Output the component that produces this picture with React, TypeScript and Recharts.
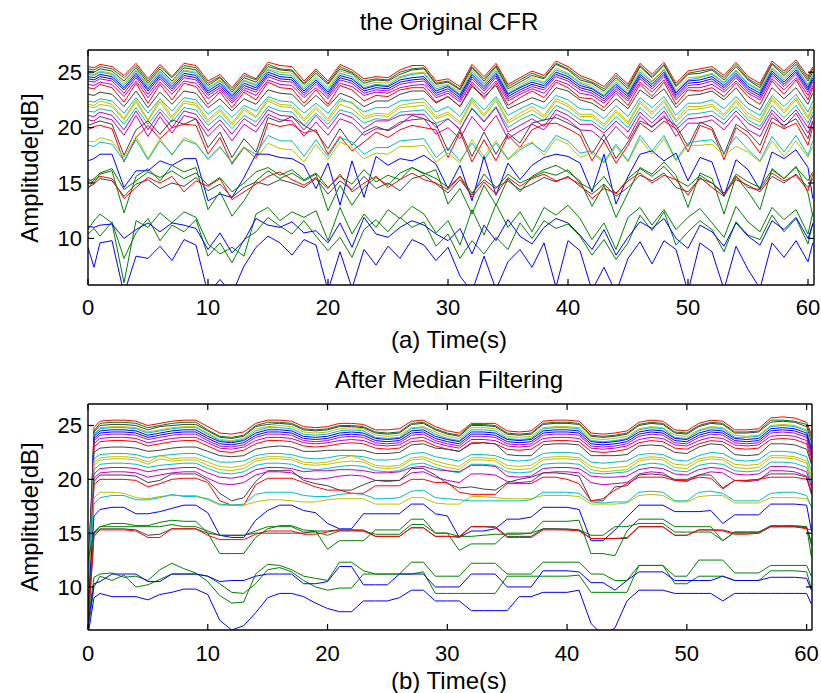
import { LineChart, Line, XAxis, YAxis, ReferenceLine } from "recharts";

const FONT = '"Liberation Sans", Arial, Helvetica, sans-serif';

// sample times (s)
const time = [0, 0.5, 1, 2, 3, 4, 5, 6, 7, 8, 9, 10, 11, 12, 13, 14, 15, 16, 17, 18, 19, 20, 21, 22, 23, 24, 25, 26, 27, 28, 29, 30, 31, 32, 33, 34, 35, 36, 37, 38, 39, 40, 41, 42, 43, 44, 45, 46, 47, 48, 49, 50, 51, 52, 53, 54, 55, 56, 57, 58, 59, 60, 60.4];

const xTicks = [0, 10, 20, 30, 40, 50, 60];
const yTicks = [10, 15, 20, 25];

// MATLAB-ish line colours, one per subcarrier
const colors = [
  "#ff0000", "#008000", "#404040", "#bfbf00", "#00bfbf", "#0000ff", "#0000ff", "#bf00bf", "#bf00bf", "#ff0000",
  "#404040", "#00bfbf", "#bfbf00", "#bfbf00", "#00bfbf", "#bf00bf", "#bf00bf", "#404040", "#ff0000", "#bfbf00",
  "#00bfbf", "#0000ff", "#008000", "#008000", "#404040", "#ff0000", "#008000", "#008000", "#0000ff", "#0000ff",
];

// (a) original CFR amplitude, dB
const orig01 = [25.5, 25.4, 25.7, 25.5, 24.7, 25.8, 24.4, 25.7, 24.6, 25.8, 25.6, 24.2, 24.8, 23.6, 24.9, 24.4, 25.9, 25.6, 25.5, 24.2, 25.3, 24.2, 25.7, 25.2, 24.4, 24.6, 24.5, 25.2, 25.6, 25.6, 24.2, 24.4, 23.7, 25.7, 24.6, 25.8, 23.9, 24.5, 25.1, 24.7, 26.0, 25.5, 24.7, 24.3, 23.7, 24.9, 23.9, 25.8, 24.8, 25.9, 24.0, 25.1, 25.3, 25.5, 24.7, 25.9, 24.6, 24.0, 26.0, 25.1, 26.1, 24.6, 25.5];
const orig02 = [25.3, 25.2, 25.5, 25.3, 24.5, 25.6, 24.2, 25.5, 24.5, 25.6, 25.4, 24.0, 24.6, 23.4, 24.7, 24.3, 25.7, 25.3, 25.2, 24.0, 25.1, 24.0, 25.5, 25.0, 24.2, 24.4, 24.3, 25.0, 25.3, 25.4, 24.0, 24.2, 23.5, 25.5, 24.4, 25.6, 23.7, 24.3, 24.9, 24.5, 25.8, 25.3, 24.5, 24.1, 23.5, 24.7, 23.7, 25.6, 24.6, 25.7, 23.8, 24.9, 25.1, 25.3, 24.5, 25.7, 24.4, 23.8, 25.8, 24.9, 25.9, 24.4, 25.3];
const orig03 = [25.1, 25.0, 25.3, 25.1, 24.2, 25.4, 24.0, 25.3, 24.2, 25.4, 25.2, 23.8, 24.5, 23.2, 24.5, 24.1, 25.5, 25.2, 25.1, 23.9, 24.9, 23.9, 25.3, 24.9, 24.0, 24.3, 24.2, 24.8, 25.2, 25.3, 23.9, 24.1, 23.4, 25.4, 24.2, 25.5, 23.5, 24.1, 24.7, 24.4, 25.7, 25.2, 24.3, 24.0, 23.3, 24.5, 23.5, 25.5, 24.5, 25.6, 23.7, 24.8, 24.9, 25.2, 24.3, 25.5, 24.3, 23.6, 25.7, 24.7, 25.7, 24.2, 25.0];
const orig04 = [24.9, 24.8, 25.1, 24.9, 24.0, 25.2, 23.8, 25.1, 24.0, 25.2, 25.0, 23.6, 24.3, 23.0, 24.3, 23.9, 25.3, 25.0, 24.9, 23.7, 24.7, 23.6, 25.1, 24.8, 23.8, 24.1, 24.0, 24.6, 24.9, 25.0, 23.7, 23.9, 23.2, 25.2, 24.0, 25.3, 23.3, 23.9, 24.5, 24.1, 25.4, 24.9, 24.1, 23.8, 23.1, 24.3, 23.3, 25.2, 24.2, 25.3, 23.4, 24.5, 24.6, 24.9, 24.1, 25.2, 24.0, 23.4, 25.4, 24.5, 25.5, 23.9, 24.8];
const orig05 = [24.8, 24.7, 25.0, 24.8, 23.8, 25.1, 23.7, 25.0, 23.9, 25.1, 24.9, 23.5, 24.2, 22.9, 24.2, 23.8, 25.2, 24.8, 24.7, 23.5, 24.5, 23.4, 24.9, 24.6, 23.6, 23.9, 23.8, 24.5, 24.8, 24.9, 23.5, 23.8, 23.0, 25.0, 23.9, 25.1, 23.1, 23.7, 24.3, 24.0, 25.2, 24.8, 24.0, 23.6, 22.9, 24.1, 23.1, 25.0, 24.1, 25.2, 23.2, 24.3, 24.5, 24.8, 24.0, 25.1, 23.9, 23.3, 25.3, 24.3, 25.4, 23.8, 24.7];
const orig06 = [24.6, 24.5, 24.8, 24.6, 23.6, 24.9, 23.5, 24.8, 23.7, 24.9, 24.7, 23.3, 24.0, 22.8, 24.0, 23.6, 25.0, 24.6, 24.5, 23.3, 24.3, 23.2, 24.7, 24.4, 23.5, 23.8, 23.7, 24.3, 24.5, 24.6, 23.3, 23.7, 22.9, 24.8, 23.7, 24.9, 23.0, 23.6, 24.1, 23.8, 25.0, 24.6, 23.8, 23.5, 22.8, 23.9, 23.0, 24.8, 23.9, 25.0, 23.1, 24.2, 24.3, 24.6, 23.8, 24.9, 23.7, 23.1, 25.1, 24.1, 25.2, 23.6, 24.5];
const orig07 = [24.4, 24.3, 24.6, 24.4, 23.4, 24.7, 23.3, 24.6, 23.5, 24.7, 24.5, 23.1, 23.8, 22.6, 23.8, 23.4, 24.8, 24.4, 24.3, 23.1, 24.1, 23.0, 24.5, 24.2, 23.3, 23.6, 23.5, 24.1, 24.3, 24.4, 23.1, 23.5, 22.7, 24.6, 23.5, 24.7, 22.8, 23.4, 23.9, 23.6, 24.8, 24.4, 23.6, 23.3, 22.6, 23.7, 22.8, 24.6, 23.7, 24.8, 22.9, 24.0, 24.1, 24.4, 23.6, 24.7, 23.5, 22.9, 24.9, 23.9, 25.0, 23.4, 24.3];
const orig08 = [24.2, 24.1, 24.4, 24.2, 23.1, 24.5, 23.0, 24.4, 23.3, 24.5, 24.3, 22.9, 23.6, 22.4, 23.6, 23.2, 24.6, 24.2, 24.1, 22.9, 23.9, 22.8, 24.3, 24.0, 23.1, 23.4, 23.3, 23.9, 24.1, 24.2, 22.9, 23.3, 22.5, 24.4, 23.3, 24.5, 22.6, 23.2, 23.7, 23.4, 24.6, 24.2, 23.4, 23.1, 22.4, 23.5, 22.6, 24.4, 23.5, 24.6, 22.7, 23.8, 23.9, 24.2, 23.4, 24.5, 23.3, 22.7, 24.7, 23.7, 24.8, 23.2, 24.1];
const orig09 = [23.9, 23.8, 24.1, 23.9, 22.8, 24.2, 22.7, 24.1, 23.0, 24.2, 24.0, 22.6, 23.4, 22.2, 23.4, 22.9, 24.3, 23.9, 23.8, 22.7, 23.6, 22.6, 24.0, 23.7, 22.9, 23.2, 23.1, 23.6, 23.8, 23.9, 22.7, 23.1, 22.3, 24.1, 23.0, 24.2, 22.4, 23.0, 23.5, 23.1, 24.3, 23.9, 23.1, 22.9, 22.2, 23.3, 22.4, 24.1, 23.2, 24.3, 22.5, 23.6, 23.6, 23.9, 23.2, 24.2, 23.1, 22.5, 24.4, 23.4, 24.5, 22.9, 23.8];
const orig10 = [23.6, 23.5, 23.9, 23.6, 22.3, 24.0, 22.2, 23.9, 22.5, 24.0, 23.7, 22.1, 23.2, 21.8, 23.2, 22.5, 24.1, 23.6, 23.5, 22.2, 23.4, 22.1, 23.8, 23.4, 22.4, 22.9, 22.8, 23.4, 23.6, 23.6, 22.3, 22.8, 21.9, 23.9, 22.6, 24.0, 22.0, 22.7, 23.3, 22.7, 24.1, 23.6, 22.7, 22.6, 21.8, 23.1, 22.0, 23.9, 22.8, 24.1, 22.1, 23.4, 23.3, 23.6, 22.8, 24.0, 22.8, 22.1, 24.2, 23.0, 24.3, 22.5, 23.6];
const orig11 = [23.0, 22.9, 23.2, 23.0, 21.9, 23.3, 21.8, 23.2, 22.1, 23.3, 23.1, 21.8, 22.6, 21.5, 22.6, 22.1, 23.4, 23.1, 23.0, 21.9, 22.9, 21.9, 23.1, 22.7, 21.9, 22.4, 22.4, 23.0, 23.3, 23.3, 22.2, 22.8, 21.9, 23.7, 22.8, 23.8, 21.7, 22.2, 22.7, 22.3, 23.6, 23.3, 22.5, 22.2, 21.5, 22.6, 21.7, 23.4, 22.6, 23.5, 21.8, 22.9, 23.0, 23.3, 22.5, 23.6, 22.2, 21.6, 23.6, 22.6, 23.6, 22.1, 23.1];
const orig12 = [22.4, 22.3, 22.6, 22.4, 21.3, 22.7, 21.3, 22.6, 21.5, 22.7, 22.5, 21.2, 22.0, 20.9, 22.0, 21.5, 22.8, 22.4, 22.3, 21.3, 22.2, 21.3, 22.6, 22.2, 21.4, 21.8, 21.8, 22.4, 22.5, 22.6, 21.4, 21.9, 21.0, 22.7, 21.6, 22.8, 21.1, 21.7, 22.2, 21.7, 22.9, 22.5, 21.7, 21.6, 20.8, 22.0, 21.0, 22.7, 21.8, 22.8, 21.1, 22.2, 22.2, 22.5, 21.7, 22.8, 21.7, 21.1, 22.9, 21.9, 23.0, 21.4, 22.4];
const orig13 = [22.1, 22.0, 22.4, 22.1, 20.8, 22.5, 20.7, 22.6, 21.0, 22.4, 22.2, 20.7, 21.7, 20.4, 21.8, 21.0, 22.6, 22.1, 22.0, 20.8, 21.9, 20.8, 22.4, 22.3, 21.0, 21.3, 21.2, 22.0, 22.2, 22.3, 21.0, 21.4, 20.5, 22.5, 21.2, 22.6, 20.6, 21.3, 21.9, 21.1, 22.6, 22.1, 21.2, 21.2, 20.3, 21.6, 20.5, 22.4, 21.4, 22.5, 20.7, 21.9, 21.9, 22.1, 21.2, 22.5, 21.3, 20.7, 22.7, 21.5, 22.7, 21.0, 22.0];
const orig14 = [21.9, 21.8, 22.1, 21.9, 20.7, 22.3, 20.6, 22.3, 20.8, 22.2, 22.0, 20.5, 21.5, 20.2, 21.6, 20.9, 22.4, 21.9, 21.8, 20.6, 21.7, 20.6, 22.1, 21.7, 20.8, 21.1, 21.0, 21.8, 21.9, 22.0, 20.8, 21.2, 20.3, 22.3, 21.0, 22.4, 20.4, 21.0, 21.6, 20.9, 22.4, 21.9, 21.0, 21.0, 20.1, 21.4, 20.3, 22.2, 21.2, 22.3, 20.5, 21.6, 21.7, 21.9, 21.0, 22.3, 21.0, 20.5, 22.5, 21.3, 22.5, 20.8, 21.8];
const orig15 = [21.5, 21.4, 21.7, 21.5, 20.3, 21.8, 20.3, 21.7, 20.5, 21.8, 21.6, 20.2, 21.1, 19.9, 21.1, 20.5, 21.9, 21.5, 21.4, 20.2, 21.3, 20.3, 21.6, 21.3, 20.4, 20.8, 20.7, 21.4, 21.5, 21.6, 20.4, 20.8, 19.9, 21.8, 20.6, 21.9, 20.0, 20.7, 21.2, 20.6, 22.0, 21.5, 20.7, 20.6, 19.8, 21.0, 20.0, 21.8, 20.8, 21.9, 20.1, 21.2, 21.3, 21.5, 20.7, 21.9, 20.7, 20.1, 22.0, 20.9, 22.0, 20.4, 21.4];
const orig16 = [21.1, 21.0, 21.4, 21.1, 19.8, 21.5, 19.8, 21.4, 20.0, 21.5, 21.2, 19.7, 20.7, 19.4, 20.8, 20.1, 21.6, 21.1, 21.0, 19.8, 21.1, 19.9, 21.3, 20.9, 19.9, 20.6, 20.6, 21.1, 21.2, 21.2, 20.0, 20.8, 19.8, 21.7, 20.5, 21.8, 19.6, 20.2, 20.8, 20.1, 21.6, 21.1, 20.3, 20.3, 19.5, 20.6, 19.6, 21.4, 20.4, 21.5, 19.8, 20.8, 20.9, 21.1, 20.3, 21.5, 20.4, 19.8, 21.6, 20.5, 21.6, 20.0, 21.1];
const orig17 = [20.7, 20.6, 21.0, 20.7, 19.3, 21.1, 19.2, 21.0, 19.5, 21.1, 20.8, 19.2, 20.3, 18.8, 20.3, 19.6, 21.2, 20.7, 20.6, 19.2, 20.5, 19.3, 20.8, 20.4, 19.3, 19.9, 19.8, 20.5, 20.7, 20.8, 19.4, 20.0, 19.0, 21.0, 19.7, 21.1, 19.0, 19.7, 20.3, 19.8, 21.2, 20.7, 19.8, 19.7, 18.8, 20.1, 19.0, 21.0, 20.0, 21.1, 19.2, 20.4, 20.4, 20.7, 19.8, 21.1, 19.8, 19.2, 21.3, 20.0, 21.3, 19.5, 20.6];
const orig18 = [20.2, 20.4, 20.6, 20.3, 17.5, 19.8, 20.6, 19.4, 20.7, 20.3, 20.8, 18.2, 19.6, 17.3, 19.0, 17.8, 20.9, 20.5, 21.0, 20.2, 19.6, 18.1, 19.9, 18.4, 19.6, 20.1, 19.7, 20.3, 21.1, 20.8, 20.3, 17.9, 19.8, 17.4, 19.6, 17.6, 19.5, 18.6, 20.4, 20.7, 20.9, 20.4, 19.8, 17.6, 19.4, 17.2, 18.7, 20.6, 20.1, 20.9, 20.2, 18.3, 20.5, 20.0, 17.6, 20.3, 19.6, 18.4, 20.9, 20.2, 20.8, 19.0, 20.5];
const orig19 = [19.8, 20.1, 20.2, 19.9, 16.9, 19.1, 20.2, 19.0, 20.0, 20.3, 20.2, 17.6, 19.1, 16.7, 18.2, 17.2, 20.4, 20.1, 20.3, 19.5, 19.8, 17.6, 19.2, 17.9, 18.7, 19.6, 19.1, 19.8, 20.2, 20.0, 19.8, 17.3, 19.6, 16.9, 18.9, 17.0, 19.3, 18.2, 19.8, 20.3, 20.4, 19.9, 19.3, 17.0, 18.8, 16.8, 18.4, 20.4, 19.6, 20.6, 19.9, 17.8, 20.2, 19.8, 17.1, 20.0, 19.2, 17.7, 20.5, 19.9, 20.4, 18.4, 20.1];
const orig20 = [18.8, 18.7, 19.1, 18.8, 17.3, 19.2, 17.2, 19.0, 17.5, 19.1, 18.6, 17.1, 18.2, 16.9, 18.3, 17.2, 18.6, 18.1, 18.0, 16.9, 18.5, 17.1, 18.7, 18.2, 17.2, 17.7, 17.6, 18.3, 18.3, 18.4, 16.9, 17.7, 16.8, 18.9, 17.4, 18.8, 17.2, 18.2, 18.7, 17.5, 19.0, 18.5, 17.3, 17.7, 16.8, 18.3, 16.9, 19.0, 17.6, 19.0, 17.0, 18.4, 18.4, 18.5, 17.5, 18.3, 17.8, 16.9, 18.8, 17.4, 18.8, 17.3, 18.3];
const orig21 = [18.4, 18.3, 18.7, 18.5, 17.0, 18.9, 17.1, 18.8, 17.6, 18.9, 18.5, 17.2, 18.3, 16.8, 18.2, 17.6, 19.3, 18.8, 18.8, 17.4, 18.9, 17.4, 19.1, 18.7, 17.6, 18.2, 18.2, 18.8, 18.9, 19.0, 17.3, 18.2, 17.0, 18.6, 17.1, 18.6, 17.1, 18.0, 18.6, 17.8, 19.3, 18.8, 17.7, 17.9, 16.9, 18.5, 17.0, 19.3, 17.9, 19.3, 17.1, 18.6, 18.8, 18.9, 17.7, 19.2, 18.0, 17.0, 19.2, 17.8, 19.3, 17.5, 18.8];
const orig22 = [17.0, 17.2, 17.6, 17.6, 14.6, 16.1, 16.1, 17.0, 16.6, 17.2, 17.2, 13.4, 14.0, 13.7, 15.5, 17.6, 17.6, 17.3, 17.2, 16.6, 14.5, 16.8, 13.0, 17.0, 13.7, 17.4, 16.6, 17.2, 17.0, 17.5, 16.7, 14.5, 16.6, 13.4, 17.4, 13.9, 16.8, 15.3, 16.6, 17.3, 17.6, 17.4, 16.8, 14.2, 17.6, 13.1, 15.6, 17.6, 17.9, 17.0, 17.7, 15.2, 17.3, 16.9, 13.8, 17.1, 16.2, 14.4, 17.8, 17.2, 18.0, 16.4, 13.6];
const orig23 = [15.4, 15.0, 15.8, 16.1, 12.3, 15.6, 16.3, 15.2, 16.6, 16.0, 16.4, 12.6, 14.2, 12.0, 13.4, 15.2, 16.1, 15.4, 15.9, 15.2, 15.8, 12.5, 14.8, 13.0, 14.6, 15.5, 14.8, 15.9, 16.4, 15.8, 16.2, 13.1, 14.5, 12.2, 14.8, 13.0, 15.4, 14.2, 15.6, 16.2, 16.6, 16.0, 15.2, 12.9, 14.8, 11.9, 14.1, 16.4, 15.8, 16.9, 15.7, 12.8, 15.9, 15.4, 12.2, 15.6, 14.2, 12.6, 16.3, 15.4, 16.5, 14.1, 12.0];
const orig24 = [15.1, 15.4, 15.9, 16.3, 14.4, 15.2, 16.0, 15.5, 16.1, 15.4, 15.9, 14.8, 15.5, 14.2, 15.0, 16.0, 16.4, 15.7, 16.2, 15.3, 15.9, 14.6, 15.6, 14.9, 16.2, 15.1, 15.7, 15.3, 16.4, 15.9, 15.4, 14.6, 15.6, 14.1, 15.3, 14.5, 15.8, 15.0, 15.5, 16.0, 15.7, 16.2, 15.0, 14.4, 15.6, 14.0, 15.4, 16.3, 15.6, 16.5, 15.3, 14.7, 15.7, 15.0, 13.9, 15.8, 15.1, 14.6, 16.2, 15.4, 16.4, 15.2, 16.0];
const orig25 = [14.6, 14.9, 15.4, 15.2, 13.8, 14.9, 15.3, 14.5, 15.0, 14.7, 15.5, 14.3, 14.9, 13.7, 14.6, 15.1, 14.8, 15.3, 15.0, 14.6, 15.4, 14.0, 15.2, 14.4, 15.6, 14.5, 15.0, 14.3, 15.4, 15.7, 14.9, 14.1, 15.3, 13.9, 15.8, 14.6, 15.2, 14.4, 14.9, 15.5, 15.1, 15.6, 14.7, 14.0, 14.9, 13.8, 14.6, 15.7, 15.2, 15.9, 14.6, 14.2, 15.4, 15.0, 14.1, 15.3, 14.8, 14.2, 15.6, 15.0, 15.8, 14.6, 15.4];
const orig26 = [14.5, 15.3, 15.6, 15.4, 13.6, 14.6, 15.5, 15.0, 15.6, 14.2, 15.2, 14.7, 15.4, 13.5, 14.2, 14.9, 15.6, 16.0, 15.3, 14.8, 15.5, 14.5, 15.8, 14.2, 15.0, 15.6, 14.6, 15.3, 15.9, 15.3, 15.0, 14.4, 15.6, 13.7, 15.1, 14.0, 15.5, 14.7, 15.4, 15.8, 15.2, 15.5, 14.9, 13.6, 14.5, 14.1, 15.2, 15.9, 15.0, 15.7, 15.3, 13.9, 15.5, 14.6, 13.8, 15.6, 14.6, 14.4, 15.9, 15.2, 15.7, 14.3, 15.8];
const orig27 = [10.8, 11.6, 12.2, 11.4, 6.0, 11.6, 11.0, 12.3, 11.4, 12.4, 11.9, 9.5, 8.6, 9.2, 8.4, 12.2, 12.8, 11.6, 12.4, 11.9, 12.5, 9.8, 12.8, 10.4, 12.2, 11.0, 12.6, 11.8, 12.9, 12.2, 10.5, 11.6, 9.4, 12.6, 10.3, 13.1, 11.0, 12.4, 10.6, 12.8, 12.1, 13.0, 11.8, 9.9, 11.4, 9.0, 11.9, 12.8, 11.2, 12.6, 10.8, 11.9, 12.7, 11.4, 10.1, 12.9, 11.5, 10.6, 12.8, 11.7, 12.6, 10.4, 12.3];
const orig28 = [10.4, 10.9, 10.2, 11.5, 8.2, 10.5, 11.8, 9.8, 11.2, 10.6, 11.7, 8.4, 9.6, 7.8, 9.9, 10.6, 11.9, 11.1, 10.4, 11.6, 10.2, 8.9, 10.1, 8.3, 10.8, 11.7, 10.6, 11.9, 11.0, 11.5, 9.3, 10.4, 8.2, 9.8, 8.6, 10.1, 9.0, 11.4, 10.0, 11.6, 10.9, 11.3, 10.2, 8.5, 9.9, 8.1, 9.6, 12.1, 10.7, 12.4, 9.4, 10.6, 11.6, 10.8, 8.8, 11.5, 10.3, 9.9, 12.1, 10.6, 11.8, 9.5, 11.4];
const orig29 = [11.1, 11.0, 11.2, 11.3, 10.0, 10.8, 11.4, 10.6, 11.4, 11.2, 10.9, 9.0, 10.5, 8.7, 9.8, 11.8, 11.2, 11.0, 11.5, 10.5, 10.7, 9.6, 11.4, 9.2, 11.9, 10.4, 10.1, 11.0, 11.6, 11.2, 10.4, 9.8, 10.9, 8.6, 11.2, 9.8, 11.7, 10.2, 9.5, 11.0, 11.8, 11.4, 10.3, 9.0, 10.8, 8.5, 10.1, 11.5, 10.9, 11.8, 10.0, 9.1, 11.2, 10.6, 9.3, 11.4, 10.2, 9.4, 11.6, 10.8, 11.9, 10.0, 11.3];
const orig30 = [9.2, 7.4, 9.6, 9.8, 5.0, 8.4, 8.2, 9.3, 8.0, 9.9, 9.4, 5.0, 6.3, 5.0, 7.5, 9.2, 10.2, 9.6, 8.5, 9.9, 9.4, 5.3, 8.8, 5.5, 9.0, 7.6, 9.3, 8.2, 9.9, 9.4, 8.0, 9.2, 6.6, 5.2, 8.4, 5.4, 7.9, 9.0, 7.4, 9.6, 5.6, 9.8, 8.9, 5.3, 7.4, 5.1, 8.2, 9.7, 7.7, 9.8, 9.0, 5.2, 9.6, 8.8, 5.4, 9.3, 7.2, 5.5, 9.6, 8.3, 9.8, 7.9, 9.6];

// (b) after median filtering, dB
const filt01 = [8.0, 24.8, 25.4, 25.5, 25.5, 25.4, 25.0, 25.2, 25.4, 25.5, 25.5, 24.9, 24.3, 24.2, 24.4, 25.2, 25.5, 25.5, 25.4, 24.9, 24.8, 24.9, 25.2, 25.2, 25.1, 24.6, 24.6, 24.7, 25.4, 25.5, 24.9, 24.5, 24.3, 25.2, 25.2, 25.2, 24.5, 24.4, 24.5, 25.4, 25.5, 25.5, 25.4, 24.3, 24.2, 24.3, 24.5, 25.3, 25.5, 25.4, 24.6, 24.5, 25.2, 25.5, 25.4, 24.6, 24.6, 24.7, 25.7, 25.8, 25.7, 25.3, 24.2];
const filt02 = [7.0, 24.5, 25.2, 25.3, 25.3, 25.2, 24.8, 25.0, 25.2, 25.3, 25.3, 24.6, 24.0, 23.9, 24.1, 25.0, 25.3, 25.3, 25.2, 24.7, 24.6, 24.7, 25.0, 25.0, 24.9, 24.4, 24.3, 24.4, 25.2, 25.3, 24.7, 24.3, 24.1, 25.1, 25.1, 25.0, 24.3, 24.2, 24.3, 25.2, 25.3, 25.3, 25.2, 24.1, 24.0, 24.1, 24.3, 25.1, 25.3, 25.2, 24.4, 24.3, 25.0, 25.3, 25.2, 24.4, 24.4, 24.5, 25.5, 25.5, 25.4, 25.1, 23.9];
const filt03 = [10.0, 24.4, 25.0, 25.1, 25.1, 25.0, 24.6, 24.9, 25.0, 25.1, 25.1, 24.5, 23.9, 23.8, 24.0, 24.9, 25.1, 25.2, 25.1, 24.6, 24.5, 24.6, 24.9, 24.9, 24.8, 24.3, 24.2, 24.3, 25.1, 25.2, 24.6, 24.2, 24.0, 25.0, 25.0, 24.9, 24.2, 24.1, 24.2, 25.1, 25.2, 25.2, 25.1, 24.0, 23.9, 24.0, 24.2, 25.0, 25.2, 25.1, 24.3, 24.2, 24.9, 25.2, 25.1, 24.3, 24.3, 24.4, 25.3, 25.4, 25.3, 24.9, 23.5];
const filt04 = [6.5, 24.2, 24.8, 24.9, 24.9, 24.8, 24.4, 24.6, 24.8, 24.9, 24.9, 24.3, 23.7, 23.6, 23.8, 24.7, 24.9, 25.0, 24.9, 24.4, 24.3, 24.4, 24.7, 24.8, 24.7, 24.1, 24.0, 24.1, 24.8, 24.9, 24.4, 24.0, 23.8, 24.8, 24.8, 24.7, 24.0, 23.9, 24.0, 24.8, 24.9, 24.9, 24.8, 23.8, 23.7, 23.8, 24.0, 24.7, 24.9, 24.8, 24.1, 24.0, 24.6, 24.9, 24.8, 24.1, 24.0, 24.1, 25.0, 25.1, 25.0, 24.6, 23.2];
const filt05 = [9.5, 24.1, 24.7, 24.8, 24.8, 24.7, 24.3, 24.5, 24.7, 24.8, 24.8, 24.2, 23.6, 23.5, 23.7, 24.5, 24.8, 24.8, 24.7, 24.2, 24.1, 24.2, 24.5, 24.6, 24.5, 23.9, 23.8, 23.9, 24.7, 24.8, 24.2, 23.8, 23.6, 24.6, 24.6, 24.5, 23.8, 23.7, 23.8, 24.7, 24.8, 24.8, 24.7, 23.6, 23.5, 23.6, 23.8, 24.6, 24.8, 24.7, 23.9, 23.8, 24.5, 24.8, 24.7, 23.9, 23.9, 24.0, 24.9, 25.0, 24.9, 24.5, 23.0];
const filt06 = [7.5, 24.0, 24.5, 24.6, 24.6, 24.5, 24.1, 24.3, 24.5, 24.6, 24.6, 24.0, 23.5, 23.4, 23.6, 24.3, 24.6, 24.6, 24.5, 24.0, 23.9, 24.0, 24.3, 24.4, 24.3, 23.8, 23.7, 23.8, 24.5, 24.6, 24.0, 23.7, 23.5, 24.4, 24.4, 24.3, 23.7, 23.6, 23.7, 24.5, 24.6, 24.6, 24.5, 23.5, 23.4, 23.5, 23.7, 24.4, 24.6, 24.5, 23.8, 23.7, 24.3, 24.6, 24.5, 23.8, 23.7, 23.8, 24.7, 24.8, 24.7, 24.3, 22.8];
const filt07 = [8.5, 23.8, 24.3, 24.4, 24.4, 24.3, 23.9, 24.1, 24.3, 24.4, 24.4, 23.8, 23.3, 23.2, 23.4, 24.1, 24.4, 24.4, 24.3, 23.8, 23.7, 23.8, 24.1, 24.2, 24.1, 23.6, 23.5, 23.6, 24.3, 24.4, 23.8, 23.5, 23.3, 24.2, 24.2, 24.1, 23.5, 23.4, 23.5, 24.3, 24.4, 24.4, 24.3, 23.3, 23.2, 23.3, 23.5, 24.2, 24.4, 24.3, 23.6, 23.5, 24.1, 24.4, 24.3, 23.6, 23.5, 23.6, 24.5, 24.6, 24.5, 24.1, 22.5];
const filt08 = [6.8, 23.6, 24.1, 24.2, 24.2, 24.1, 23.7, 23.9, 24.1, 24.2, 24.2, 23.6, 23.1, 23.0, 23.2, 23.9, 24.2, 24.2, 24.1, 23.6, 23.5, 23.6, 23.9, 24.0, 23.9, 23.4, 23.3, 23.4, 24.1, 24.2, 23.6, 23.3, 23.1, 24.0, 24.0, 23.9, 23.3, 23.2, 23.3, 24.1, 24.2, 24.2, 24.1, 23.1, 23.0, 23.1, 23.3, 24.0, 24.2, 24.1, 23.4, 23.3, 23.9, 24.2, 24.1, 23.4, 23.3, 23.4, 24.3, 24.4, 24.3, 23.9, 22.3];
const filt09 = [11.0, 23.3, 23.8, 23.9, 23.9, 23.8, 23.4, 23.6, 23.8, 23.9, 23.9, 23.4, 22.9, 22.8, 23.0, 23.6, 23.9, 23.9, 23.8, 23.4, 23.3, 23.4, 23.6, 23.7, 23.6, 23.2, 23.1, 23.2, 23.8, 23.9, 23.4, 23.1, 22.9, 23.7, 23.7, 23.6, 23.1, 23.0, 23.1, 23.8, 23.9, 23.9, 23.8, 22.9, 22.8, 22.9, 23.1, 23.7, 23.9, 23.8, 23.2, 23.1, 23.6, 23.9, 23.8, 23.2, 23.1, 23.2, 24.0, 24.1, 24.0, 23.6, 22.0];
const filt10 = [7.2, 23.0, 23.5, 23.6, 23.6, 23.5, 23.1, 23.3, 23.5, 23.6, 23.6, 23.1, 22.6, 22.5, 22.7, 23.3, 23.6, 23.6, 23.5, 23.1, 23.0, 23.1, 23.3, 23.4, 23.3, 22.9, 22.8, 22.9, 23.5, 23.6, 23.1, 22.8, 22.6, 23.4, 23.4, 23.3, 22.8, 22.7, 22.8, 23.5, 23.6, 23.6, 23.5, 22.6, 22.5, 22.6, 22.8, 23.4, 23.6, 23.5, 22.9, 22.8, 23.3, 23.6, 23.5, 22.9, 22.8, 22.9, 23.7, 23.8, 23.7, 23.3, 21.6];
const filt11 = [12.0, 22.5, 22.9, 23.0, 23.0, 22.9, 22.6, 22.7, 22.9, 23.0, 23.0, 22.6, 22.2, 22.1, 22.2, 22.8, 23.0, 23.1, 23.0, 22.6, 22.6, 22.7, 22.7, 22.7, 22.7, 22.4, 22.4, 22.5, 23.2, 23.3, 22.9, 22.8, 22.6, 23.3, 23.4, 23.3, 22.3, 22.2, 22.2, 23.2, 23.3, 23.3, 23.2, 22.2, 22.2, 22.2, 22.3, 23.1, 23.2, 23.1, 22.5, 22.4, 23.0, 23.3, 23.2, 22.3, 22.2, 22.3, 23.3, 23.3, 23.2, 22.8, 21.4];
const filt12 = [8.2, 21.9, 22.3, 22.4, 22.4, 22.3, 22.0, 22.2, 22.3, 22.4, 22.4, 22.0, 21.6, 21.6, 21.7, 22.2, 22.4, 22.4, 22.3, 22.0, 21.9, 22.0, 22.2, 22.2, 22.1, 21.8, 21.8, 21.9, 22.4, 22.5, 22.1, 21.9, 21.7, 22.3, 22.3, 22.2, 21.8, 21.7, 21.8, 22.4, 22.5, 22.5, 22.4, 21.6, 21.5, 21.6, 21.7, 22.3, 22.4, 22.3, 21.8, 21.7, 22.2, 22.5, 22.4, 21.8, 21.7, 21.8, 22.6, 22.6, 22.5, 22.1, 20.8];
const filt13 = [6.2, 21.6, 22.0, 22.1, 22.1, 22.0, 21.6, 22.2, 21.9, 22.0, 22.0, 21.6, 21.2, 21.1, 21.3, 21.9, 22.1, 22.1, 22.0, 21.6, 21.5, 21.6, 21.9, 22.2, 21.8, 21.3, 21.2, 21.3, 22.0, 22.1, 21.7, 21.4, 21.2, 22.0, 22.0, 21.9, 21.3, 21.2, 21.3, 22.0, 22.1, 22.1, 22.0, 21.2, 21.0, 21.1, 21.2, 21.9, 22.1, 22.0, 21.4, 21.3, 21.9, 22.1, 22.0, 21.4, 21.3, 21.4, 22.2, 22.2, 22.1, 21.7, 20.3];
const filt14 = [9.0, 21.3, 21.8, 21.9, 21.9, 21.8, 21.4, 21.9, 21.7, 21.8, 21.8, 21.3, 20.9, 20.8, 21.0, 21.7, 21.9, 21.9, 21.8, 21.4, 21.3, 21.4, 21.6, 21.7, 21.6, 21.1, 21.0, 21.1, 21.8, 21.9, 21.4, 21.1, 20.9, 21.8, 21.8, 21.7, 21.0, 20.9, 21.0, 21.8, 21.9, 21.9, 21.8, 20.9, 20.7, 20.8, 20.9, 21.7, 21.9, 21.8, 21.1, 21.0, 21.7, 21.9, 21.8, 21.1, 21.0, 21.1, 22.0, 22.0, 21.9, 21.5, 20.0];
const filt15 = [10.5, 20.9, 21.4, 21.5, 21.5, 21.4, 21.1, 21.3, 21.4, 21.5, 21.5, 21.0, 20.6, 20.5, 20.7, 21.3, 21.5, 21.5, 21.4, 21.0, 20.9, 21.0, 21.2, 21.3, 21.2, 20.8, 20.7, 20.8, 21.4, 21.5, 21.1, 20.8, 20.6, 21.4, 21.4, 21.3, 20.7, 20.6, 20.7, 21.4, 21.5, 21.5, 21.4, 20.6, 20.5, 20.6, 20.7, 21.3, 21.5, 21.4, 20.8, 20.7, 21.3, 21.5, 21.4, 20.8, 20.7, 20.8, 21.6, 21.6, 21.5, 21.1, 19.6];
const filt16 = [7.8, 20.5, 21.0, 21.1, 21.1, 21.0, 20.7, 20.9, 21.0, 21.1, 21.1, 20.6, 20.2, 20.1, 20.3, 20.9, 21.1, 21.1, 21.0, 20.7, 20.8, 20.8, 20.9, 20.9, 20.8, 20.6, 20.6, 20.7, 21.1, 21.2, 20.9, 20.8, 20.7, 21.3, 21.3, 21.2, 20.3, 20.2, 20.3, 21.0, 21.1, 21.1, 21.0, 20.3, 20.2, 20.2, 20.3, 20.9, 21.1, 21.0, 20.5, 20.4, 20.9, 21.1, 21.0, 20.5, 20.4, 20.5, 21.2, 21.2, 21.1, 20.7, 19.3];
const filt17 = [6.6, 20.1, 20.6, 20.7, 20.7, 20.6, 20.2, 20.4, 20.6, 20.7, 20.7, 20.1, 19.6, 19.5, 19.7, 20.4, 20.7, 20.7, 20.6, 20.1, 20.0, 20.1, 20.3, 20.4, 20.3, 19.9, 19.8, 19.9, 20.6, 20.7, 20.2, 19.9, 19.7, 20.5, 20.5, 20.4, 19.8, 19.7, 19.8, 20.6, 20.7, 20.7, 20.6, 19.7, 19.5, 19.6, 19.7, 20.5, 20.7, 20.6, 19.9, 19.8, 20.4, 20.7, 20.6, 19.9, 19.8, 19.9, 20.8, 20.8, 20.7, 20.3, 18.8];
const filt18 = [5.8, 19.8, 20.4, 20.4, 20.4, 20.3, 19.7, 19.9, 20.5, 20.5, 20.5, 19.9, 18.7, 18.0, 18.3, 19.8, 20.8, 20.8, 20.8, 19.9, 19.6, 19.4, 19.0, 19.0, 19.5, 19.9, 19.9, 19.9, 21.0, 21.0, 20.4, 19.6, 19.2, 19.3, 19.1, 19.0, 19.7, 20.0, 20.2, 20.6, 20.6, 20.5, 20.3, 18.0, 18.0, 19.3, 19.4, 20.4, 20.5, 20.4, 20.0, 20.0, 20.4, 20.4, 19.2, 19.9, 19.9, 20.0, 20.5, 20.5, 20.5, 20.2, 18.6];
const filt19 = [7.0, 19.5, 20.0, 20.0, 20.0, 19.9, 19.3, 19.6, 20.0, 20.1, 20.1, 19.7, 18.0, 17.6, 17.6, 19.5, 20.1, 20.1, 20.1, 19.7, 19.3, 19.0, 19.0, 18.7, 18.7, 19.4, 19.4, 19.4, 20.0, 20.0, 19.7, 19.7, 18.8, 18.6, 18.6, 18.6, 19.6, 19.6, 19.6, 20.2, 20.2, 20.0, 19.6, 18.0, 18.2, 19.0, 19.6, 20.2, 20.2, 20.2, 19.9, 19.9, 20.2, 20.1, 19.1, 19.9, 19.9, 20.0, 20.2, 20.2, 20.2, 20.0, 18.9];
const filt20 = [8.8, 18.3, 18.8, 18.8, 18.7, 18.3, 18.2, 18.4, 18.5, 18.5, 18.5, 18.1, 17.6, 17.6, 17.6, 17.9, 18.1, 18.1, 18.0, 17.9, 17.9, 18.1, 18.2, 18.2, 18.2, 17.7, 17.7, 17.7, 18.3, 18.3, 17.8, 17.7, 17.7, 18.4, 18.4, 18.3, 18.2, 18.2, 18.2, 18.5, 18.5, 18.5, 18.4, 17.7, 17.7, 17.7, 17.8, 18.5, 18.6, 18.5, 17.9, 17.9, 18.4, 18.5, 18.5, 17.8, 17.8, 17.8, 18.3, 18.3, 18.3, 18.2, 17.5];
const filt21 = [11.5, 17.7, 18.3, 18.5, 18.5, 18.1, 18.1, 18.3, 18.6, 18.4, 18.4, 18.2, 17.7, 17.6, 17.7, 18.6, 18.8, 18.8, 18.8, 18.5, 18.4, 18.4, 18.6, 18.7, 18.6, 18.2, 18.2, 18.3, 18.9, 19.0, 18.3, 18.2, 18.1, 18.0, 18.0, 18.0, 18.0, 18.0, 18.1, 18.8, 18.8, 18.8, 18.7, 17.9, 17.8, 17.9, 17.9, 18.8, 18.9, 18.8, 18.0, 18.0, 18.8, 18.9, 18.7, 18.0, 18.0, 18.0, 18.7, 18.8, 18.8, 18.5, 17.4];
const filt22 = [8.2, 16.6, 17.2, 17.4, 17.4, 16.8, 16.8, 17.0, 17.3, 17.6, 17.6, 16.9, 14.8, 14.6, 14.6, 16.2, 17.1, 17.6, 17.6, 17.1, 16.9, 15.9, 15.4, 15.4, 16.8, 16.8, 16.8, 16.8, 17.7, 17.7, 16.8, 16.6, 14.6, 15.2, 15.2, 15.4, 16.3, 16.3, 16.5, 17.4, 17.4, 17.4, 17.2, 14.3, 14.3, 15.3, 16.5, 17.6, 17.6, 17.6, 17.0, 17.0, 17.0, 17.1, 15.9, 16.7, 16.7, 16.7, 17.7, 17.7, 17.7, 17.6, 15.2];
const filt23 = [6.0, 15.0, 15.6, 15.9, 15.9, 15.7, 15.7, 16.0, 16.2, 16.1, 16.1, 15.0, 13.1, 13.1, 13.1, 14.6, 15.4, 15.7, 15.7, 15.3, 15.2, 13.5, 14.3, 14.3, 14.3, 15.3, 15.3, 15.3, 16.3, 16.3, 15.0, 15.0, 13.4, 14.0, 14.0, 14.0, 15.0, 15.0, 15.0, 16.1, 16.1, 16.1, 16.2, 13.1, 13.1, 12.9, 15.2, 16.3, 16.3, 16.3, 15.6, 15.6, 15.6, 15.6, 14.3, 15.1, 15.1, 15.1, 15.6, 15.6, 15.6, 15.6, 12.8];
const filt24 = [12.5, 15.1, 15.6, 15.6, 15.6, 15.6, 15.6, 15.6, 15.8, 15.6, 15.6, 15.2, 14.8, 14.8, 14.8, 15.2, 15.6, 15.6, 15.6, 15.1, 15.1, 14.8, 15.2, 15.2, 15.2, 14.9, 14.9, 14.9, 15.8, 15.8, 15.0, 15.0, 14.7, 14.7, 14.8, 14.9, 14.9, 14.9, 15.0, 15.4, 15.4, 15.3, 15.3, 14.8, 14.8, 15.6, 15.6, 15.9, 15.9, 15.9, 15.1, 15.1, 15.1, 15.1, 14.3, 15.1, 15.1, 15.1, 15.7, 15.7, 15.7, 15.6, 13.9];
const filt25 = [7.8, 14.9, 15.4, 15.4, 15.4, 15.3, 14.8, 14.9, 15.4, 15.4, 15.4, 15.0, 14.8, 14.8, 14.8, 15.0, 15.0, 15.0, 15.0, 15.0, 15.2, 15.2, 15.3, 15.3, 15.3, 14.7, 14.7, 14.7, 15.5, 15.5, 14.7, 14.7, 14.7, 15.6, 15.6, 15.6, 14.7, 14.7, 14.7, 15.4, 15.4, 15.4, 15.3, 14.5, 14.5, 14.5, 14.5, 15.6, 15.6, 15.6, 14.8, 14.8, 15.3, 15.3, 15.3, 15.0, 15.0, 15.0, 15.6, 15.6, 15.6, 15.5, 14.2];
const filt26 = [6.4, 14.7, 15.3, 15.3, 15.3, 15.2, 14.6, 14.6, 15.4, 15.4, 15.4, 14.8, 14.4, 14.4, 14.4, 14.9, 15.2, 15.2, 15.2, 14.9, 14.9, 15.1, 15.3, 15.3, 15.2, 14.7, 14.7, 14.7, 15.5, 15.5, 14.7, 14.7, 14.6, 15.6, 15.6, 15.5, 14.6, 14.6, 14.6, 15.3, 15.3, 15.3, 15.2, 14.5, 14.5, 14.5, 14.6, 15.6, 15.6, 15.6, 14.8, 14.8, 15.3, 15.3, 15.2, 14.9, 14.9, 15.0, 15.6, 15.6, 15.6, 15.4, 15.3];
const filt27 = [6.8, 10.9, 11.2, 11.3, 10.9, 11.0, 10.6, 11.6, 12.2, 11.7, 11.3, 10.5, 9.2, 8.5, 8.6, 11.2, 12.1, 12.0, 11.6, 11.0, 10.8, 10.6, 12.3, 12.3, 11.5, 11.2, 11.2, 11.2, 12.3, 12.3, 11.0, 11.0, 11.0, 12.2, 12.2, 12.2, 11.2, 11.2, 11.2, 12.3, 12.3, 12.3, 12.3, 11.2, 11.2, 10.6, 10.6, 12.0, 12.0, 12.0, 11.0, 11.0, 12.5, 12.5, 12.5, 11.3, 11.3, 11.3, 12.0, 12.0, 12.0, 12.0, 11.0];
const filt28 = [5.9, 10.0, 11.0, 10.6, 11.1, 10.0, 10.2, 10.7, 11.2, 11.2, 11.2, 11.0, 10.3, 9.5, 9.4, 10.3, 11.6, 11.8, 11.4, 10.6, 10.0, 9.7, 9.9, 9.9, 11.2, 11.2, 11.2, 11.2, 11.2, 11.4, 9.4, 9.4, 9.4, 9.4, 9.4, 9.4, 11.0, 11.0, 11.0, 11.0, 11.0, 11.0, 11.1, 9.5, 9.5, 9.5, 9.5, 12.0, 12.0, 12.0, 10.3, 10.3, 11.0, 11.0, 11.0, 10.6, 10.6, 10.6, 11.5, 11.5, 11.5, 11.4, 9.8];
const filt29 = [6.5, 10.3, 10.5, 11.2, 11.2, 11.2, 10.5, 10.5, 11.2, 11.2, 11.2, 11.0, 10.5, 10.6, 10.6, 11.0, 11.2, 11.2, 11.2, 10.3, 10.3, 10.5, 11.9, 11.9, 10.2, 10.2, 10.2, 11.2, 11.2, 11.2, 10.0, 10.0, 10.0, 11.2, 11.2, 11.2, 10.0, 10.0, 10.0, 11.5, 11.5, 11.5, 11.4, 10.4, 10.4, 9.7, 10.6, 11.4, 11.4, 11.4, 10.6, 10.6, 10.6, 10.6, 11.0, 10.6, 10.6, 10.6, 10.9, 10.9, 10.9, 10.8, 9.7];
const filt30 = [5.5, 9.0, 9.4, 9.1, 9.1, 9.1, 8.8, 9.3, 9.5, 9.8, 9.8, 9.3, 6.9, 6.0, 6.4, 7.6, 9.0, 9.4, 9.4, 9.1, 8.5, 8.0, 7.7, 7.7, 8.7, 8.7, 8.7, 9.0, 9.7, 9.7, 8.7, 8.7, 8.7, 7.8, 7.8, 7.8, 7.8, 9.1, 9.1, 9.5, 9.5, 9.5, 9.7, 6.6, 5.5, 6.2, 8.7, 9.7, 9.7, 9.7, 9.4, 9.4, 9.4, 9.4, 8.7, 9.4, 9.4, 9.4, 9.4, 9.4, 9.4, 9.4, 8.4];

const original = [orig01, orig02, orig03, orig04, orig05, orig06, orig07, orig08, orig09, orig10, orig11, orig12, orig13, orig14, orig15, orig16, orig17, orig18, orig19, orig20, orig21, orig22, orig23, orig24, orig25, orig26, orig27, orig28, orig29, orig30];
const filtered = [filt01, filt02, filt03, filt04, filt05, filt06, filt07, filt08, filt09, filt10, filt11, filt12, filt13, filt14, filt15, filt16, filt17, filt18, filt19, filt20, filt21, filt22, filt23, filt24, filt25, filt26, filt27, filt28, filt29, filt30];

const tickStyle = { fill: "#000", fontSize: 22, fontFamily: FONT };
const axisLineStyle = { stroke: "#000", strokeWidth: 1.4 };
const TICK_PX = 6;

function Panel({ series, top, height, plotTop, plotBottom, plotRight, yMin, xMax, labelGap }) {
  const rows = time.map((t, i) => {
    const row: Record<string, number> = { t };
    series.forEach((s, k) => {
      row[`s${k}`] = s[i];
    });
    return row;
  });

  // inward tick length, converted to data units
  const dx = (TICK_PX * xMax) / (plotRight - 88);
  const dy = (TICK_PX * (27 - yMin)) / (plotBottom - plotTop);

  return (
    <div style={{ position: "absolute", left: 0, top, width: 821, height }}>
      <LineChart
        width={821}
        height={height}
        data={rows}
        margin={{ top: plotTop - 1, right: 821 - plotRight - 1, bottom: 0, left: 0 }}
      >
        <XAxis
          dataKey="t"
          type="number"
          domain={[0, xMax]}
          ticks={xTicks}
          interval={0}
          allowDataOverflow
          height={height - plotBottom}
          tickSize={0}
          tickLine={false}
          tickMargin={labelGap}
          axisLine={axisLineStyle}
          tick={tickStyle}
        />
        <XAxis
          xAxisId="top"
          orientation="top"
          dataKey="t"
          type="number"
          domain={[0, xMax]}
          ticks={xTicks}
          allowDataOverflow
          height={1}
          tickLine={false}
          tick={false}
          axisLine={axisLineStyle}
        />
        <YAxis
          type="number"
          domain={[yMin, 27]}
          ticks={yTicks}
          interval={0}
          allowDataOverflow
          width={88}
          tickSize={0}
          tickLine={false}
          tickMargin={6}
          axisLine={axisLineStyle}
          tick={tickStyle}
        />
        <YAxis
          yAxisId="right"
          orientation="right"
          type="number"
          domain={[yMin, 27]}
          ticks={yTicks}
          allowDataOverflow
          width={1}
          tickLine={false}
          tick={false}
          axisLine={axisLineStyle}
        />
        {series.map((_, k) => (
          <Line
            key={k}
            type="linear"
            dataKey={`s${k}`}
            stroke={colors[k]}
            strokeWidth={1}
            dot={false}
            activeDot={false}
            isAnimationActive={false}
          />
        ))}
        {xTicks.map((x) => (
          <ReferenceLine key={`xb${x}`} segment={[{ x, y: yMin }, { x, y: yMin + dy }]} stroke="#000" strokeWidth={1.2} />
        ))}
        {xTicks.map((x) => (
          <ReferenceLine key={`xt${x}`} segment={[{ x, y: 27 }, { x, y: 27 - dy }]} stroke="#000" strokeWidth={1.2} />
        ))}
        {yTicks.map((y) => (
          <ReferenceLine key={`yl${y}`} segment={[{ x: 0, y }, { x: dx, y }]} stroke="#000" strokeWidth={1.2} />
        ))}
        {yTicks.map((y) => (
          <ReferenceLine key={`yr${y}`} segment={[{ x: xMax - dx, y }, { x: xMax, y }]} stroke="#000" strokeWidth={1.2} />
        ))}
      </LineChart>
    </div>
  );
}

function Caption({ x, y, text, vertical = false }) {
  return (
    <div
      style={{
        position: "absolute",
        left: x,
        top: y,
        transform: vertical ? "translate(-50%, -50%) rotate(-90deg)" : "translate(-50%, -50%)",
        fontFamily: FONT,
        fontSize: 24,
        lineHeight: 1,
        whiteSpace: "nowrap",
        color: "#000",
      }}
    >
      {text}
    </div>
  );
}

export default function App() {
  return (
    <div style={{ position: "absolute", left: 0, top: 0, width: 821, height: 693, background: "#fff", overflow: "hidden" }}>
      <Panel series={original} top={0} height={360} plotTop={50} plotBottom={285} plotRight={814} yMin={5.8} xMax={60.5} labelGap={14} />
      <Panel series={filtered} top={360} height={333} plotTop={44} plotBottom={270} plotRight={812} yMin={6} xMax={60.45} labelGap={15} />
      <Caption x={449} y={22} text="the Original CFR" />
      <Caption x={449} y={340} text="(a) Time(s)" />
      <Caption x={30} y={168} text="Amplitude[dB]" vertical />
      <Caption x={449} y={380} text="After Median Filtering" />
      <Caption x={449} y={681} text="(b) Time(s)" />
      <Caption x={30} y={517} text="Amplitude[dB]" vertical />
    </div>
  );
}
